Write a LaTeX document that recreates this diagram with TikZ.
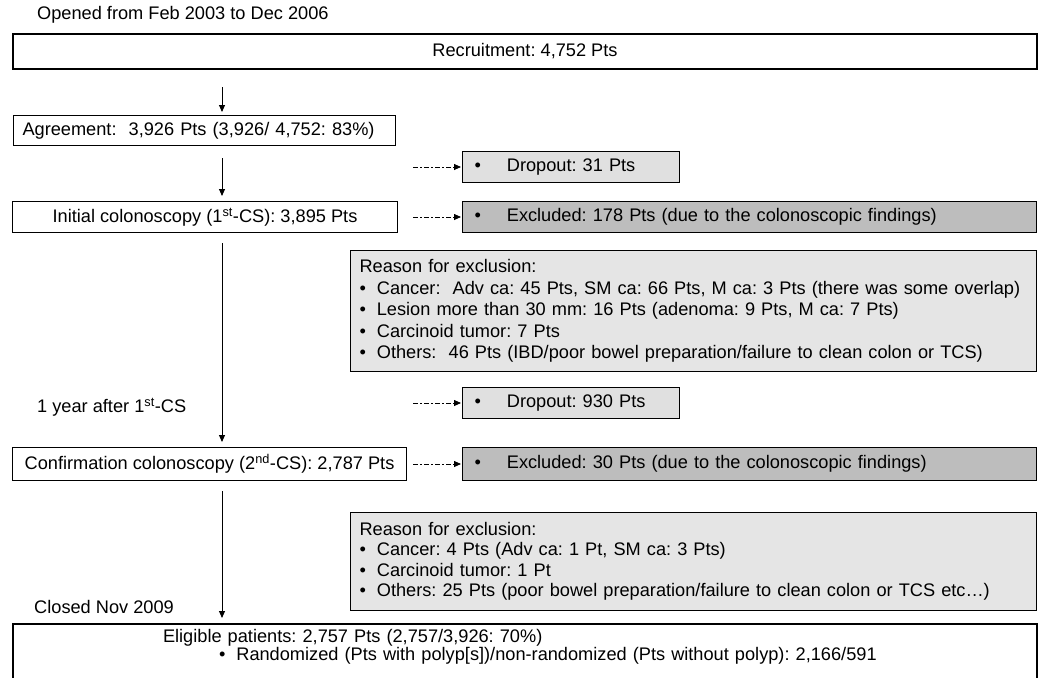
\documentclass[tikz,border=0pt]{standalone}
\usepackage{fontspec}
\setmainfont{Liberation Sans}
\usetikzlibrary{arrows.meta}
\definecolor{dropfill}{gray}{0.88}
\definecolor{exclfill}{gray}{0.74}
\definecolor{reasonfill}{gray}{0.90}
\newcommand\fs{\fontsize{18.2}{18}\selectfont}
\frenchspacing
\begin{document}
\begin{tikzpicture}[x=1pt,y=-1pt,
  every node/.style={font=\fs},
  plain/.style={draw=black, line width=1pt, inner sep=0pt, anchor=north west},
  bigbox/.style={draw=black, line width=2pt, inner sep=0pt, anchor=north west},
  dropbox/.style={plain, fill=dropfill, inner xsep=12pt, align=left, minimum height=31pt},
  exclbox/.style={plain, fill=exclfill, inner xsep=12pt, align=left, minimum height=31pt},
  reasonbox/.style={plain, fill=reasonfill, inner xsep=9pt, align=left},
  arr/.style={-{Triangle[length=7pt,width=6pt]}, line width=0.9pt},
  dasharr/.style={-{Triangle[length=7pt,width=6pt]}, line width=0.8pt,
    dash pattern=on 4.5pt off 2.5pt on 1.5pt off 2.5pt},
  lbl/.style={anchor=west, inner sep=0pt}
]
\useasboundingbox (0,0) rectangle (1040,677);
\coordinate (col) at (222,0);
\coordinate (s1) at (413,0);

% left column
\node[lbl] (opened) at (37,15) {Opened from Feb 2003 to Dec 2006};
\node[bigbox, minimum width=1024pt, minimum height=35pt] (rec) at (12,33) {Recruitment: 4,752 Pts};
\node[plain, minimum width=382pt, minimum height=30pt, text width=364pt, inner xsep=9pt, align=left] (agr) at (13,115)
  {Agreement:\ \ 3,926 Pts (3,926/ 4,752: 83\%)};
\node[plain, minimum width=385pt, minimum height=31pt] (init) at (12,201)
  {Initial colonoscopy (1\textsuperscript{st}-CS): 3,895 Pts};
\node[lbl] (year) at (37,407) {1 year after 1\textsuperscript{st}-CS};
\node[plain, minimum width=394pt, minimum height=33pt] (conf) at (12,447)
  {Confirmation colonoscopy (2\textsuperscript{nd}-CS): 2,787 Pts};
\node[lbl] (closed) at (34,607) {Closed Nov 2009};
\node[bigbox, text width=724pt, inner xsep=150pt, inner ysep=5pt, align=left, text depth=40pt] (elig) at (12,623)
  {Eligible patients: 2,757 Pts (2,757/3,926: 70\%)\\
   \hspace*{56pt}\textbullet\hspace{11pt}Randomized (Pts with polyp[s])/non-randomized (Pts without polyp): 2,166/591};

% right column
\node[dropbox, minimum width=217pt, text width=193pt] (drop1) at (462,151)
  {\textbullet\hspace{26pt}Dropout: 31 Pts};
\node[exclbox, minimum width=574pt, text width=550pt] (exc1) at (462,201)
  {\textbullet\hspace{26pt}Excluded: 178 Pts (due to the colonoscopic findings)};
\node[reasonbox, text width=668pt, inner ysep=9pt, font=\fontsize{18.2}{21.5}\selectfont] (rsn1) at (350,250)
  {Reason for exclusion:\\
   \textbullet\hspace{11pt}Cancer:\ \ Adv ca: 45 Pts, SM ca: 66 Pts, M ca: 3 Pts (there was some overlap)\\
   \textbullet\hspace{11pt}Lesion more than 30 mm: 16 Pts (adenoma: 9 Pts, M ca: 7 Pts)\\
   \textbullet\hspace{11pt}Carcinoid tumor: 7 Pts\\
   \textbullet\hspace{11pt}Others:\ \ 46 Pts (IBD/poor bowel preparation/failure to clean colon or TCS)};
\node[dropbox, minimum width=217pt, text width=193pt] (drop2) at (462,387)
  {\textbullet\hspace{26pt}Dropout: 930 Pts};
\node[exclbox, minimum width=574pt, text width=550pt, minimum height=33pt] (exc2) at (462,447)
  {\textbullet\hspace{26pt}Excluded: 30 Pts (due to the colonoscopic findings)};
\node[reasonbox, text width=668pt, inner ysep=10pt, font=\fontsize{18.2}{20.3}\selectfont] (rsn2) at (350,512)
  {Reason for exclusion:\\
   \textbullet\hspace{11pt}Cancer: 4 Pts (Adv ca: 1 Pt, SM ca: 3 Pts)\\
   \textbullet\hspace{11pt}Carcinoid tumor: 1 Pt\\
   \textbullet\hspace{11pt}Others: 25 Pts (poor bowel preparation/failure to clean colon or TCS etc\dots)};

% main arrows
\draw[arr, shorten <=17pt, shorten >=3pt] (rec.south -| col) -- (agr.north -| col);
\draw[arr, shorten <=12pt, shorten >=5pt] (agr.south -| col) -- (init.north -| col);
\draw[arr, shorten <=10pt, shorten >=5pt] (init.south -| col) -- (conf.north -| col);
\draw[arr, shorten <=10pt, shorten >=5pt] (conf.south -| col) -- (elig.north -| col);

% dashed side arrows
\draw[dasharr, shorten >=1pt] (drop1.west -| s1) -- (drop1.west);
\draw[dasharr, shorten >=1pt] (exc1.west -| s1) -- (exc1.west);
\draw[dasharr, shorten >=1pt] (drop2.west -| s1) -- (drop2.west);
\draw[dasharr, shorten >=1pt] (exc2.west -| s1) -- (exc2.west);
\end{tikzpicture}
\end{document}
